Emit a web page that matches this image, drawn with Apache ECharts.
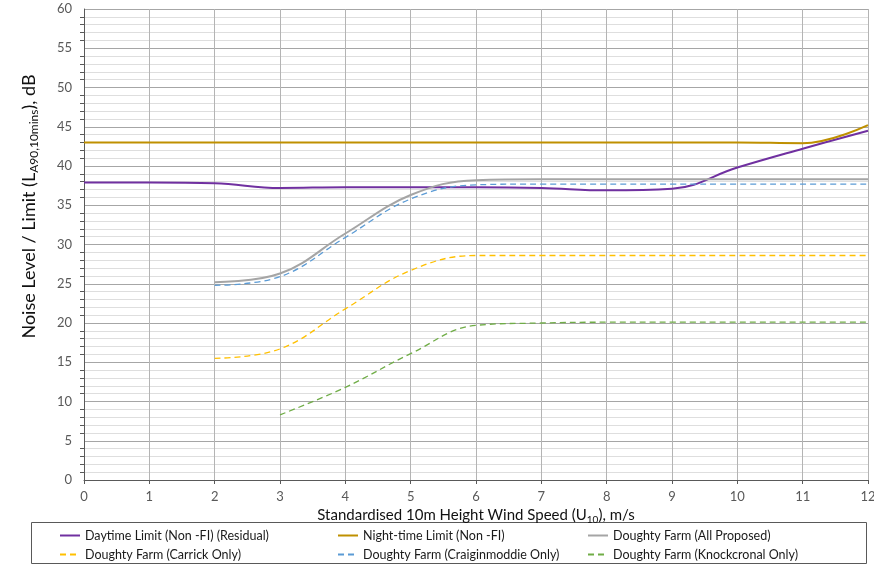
<!DOCTYPE html>
<html>
<head>
<meta charset="utf-8">
<script src="https://cdn.jsdelivr.net/npm/echarts@6/dist/echarts.min.js"></script>
<style>html,body{margin:0;padding:0;background:#fff}#c{width:874px;height:568px}</style>
</head>
<body>
<div id="c"></div>
<script>
const windSpeeds = [0,1,2,3,4,5,6,7,8,9,10,11,12];
const daytimeLimit = [37.9,37.9,37.8,37.2,37.3,37.3,37.3,37.2,36.9,37.1,39.8,42.2,44.5];
const nightLimit = [43,43,43,43,43,43,43,43,43,43,43,42.9,45.2];
const allProposed = [null,null,25.2,26.3,31.4,36.3,38.2,38.3,38.3,38.3,38.3,38.3,38.3];
const carrick = [null,null,15.5,16.7,21.8,26.7,28.6,28.6,28.6,28.6,28.6,28.6,28.6];
const craiginmoddie = [null,null,24.8,25.9,30.9,35.8,37.6,37.7,37.7,37.7,37.7,37.7,37.7];
const knockcronal = [null,null,null,8.3,11.8,16.1,19.7,20.0,20.1,20.1,20.1,20.1,20.1];
const yTicks = [0,5,10,15,20,25,30,35,40,45,50,55,60];

const names = {
  day: 'Daytime Limit (Non -FI) (Residual)',
  night: 'Night-time Limit (Non -FI)',
  all: 'Doughty Farm (All Proposed)',
  car: 'Doughty Farm (Carrick Only)',
  cra: 'Doughty Farm (Craiginmoddie Only)',
  kno: 'Doughty Farm (Knockcronal Only)'
};
function pairs(arr){ return windSpeeds.map((x,i)=>[x,arr[i]]).filter(p=>p[1]!==null); }
function ser(name, arr, color, width, type){
  return {name, type:'line', data:pairs(arr), smooth:0.4, showSymbol:false, symbol:'none',
    lineStyle:{color, width, type}, itemStyle:{color}, z:3};
}
const FONT = 'Lato, "Liberation Sans", sans-serif';
function leg(name, left, top){
  return {data:[name], left, top, padding:0, itemWidth:20, itemHeight:10, itemGap:0,
    itemStyle:{opacity:0, borderWidth:0},
    textStyle:{fontFamily:FONT, fontSize:12.5, color:'#1a1a1a'}, selectedMode:false};
}
const chart = echarts.init(document.getElementById('c'));
chart.setOption({
  animation:false,
  backgroundColor:'#fff',
  grid:{left:84, right:6, top:9, bottom:88, containLabel:false, outerBoundsMode:'none'},
  xAxis:{type:'value', min:0, max:12, interval:1,
    name:'Standardised 10m Height Wind Speed (U{sub|10}), m/s',
    nameLocation:'middle', nameGap:26,
    nameTextStyle:{fontFamily:FONT, fontSize:15, color:'#111',
      rich:{sub:{fontFamily:FONT, fontSize:10, color:'#111', verticalAlign:'bottom', padding:[8,0,0,0]}}},
    axisLine:{lineStyle:{color:'#595959', width:1}},
    axisTick:{show:true, length:4, lineStyle:{color:'#595959'}},
    axisLabel:{fontFamily:FONT, fontSize:13, color:'#595959', margin:10},
    splitLine:{show:true, lineStyle:{color:'#b4b4b4', width:1}}
  },
  yAxis:{type:'value', min:0, max:60, interval:5,
    name:'Noise Level / Limit (L{sub|A90,10mins}), dB',
    nameLocation:'middle', nameGap:44,
    nameTextStyle:{fontFamily:FONT, fontSize:18, color:'#111', padding:[0,0,0,76],
      rich:{sub:{fontFamily:FONT, fontSize:12, color:'#111', verticalAlign:'bottom', padding:[9,0,0,0]}}},
    axisLine:{show:true, lineStyle:{color:'#595959', width:1}},
    axisTick:{show:false},
    minorTick:{show:true, splitNumber:5, length:4, lineStyle:{color:'#595959'}},
    axisLabel:{fontFamily:FONT, fontSize:13, color:'#595959', margin:12,
      formatter:v=>yTicks.includes(v)?String(v):''},
    splitLine:{show:true, lineStyle:{color:'#a6a6a6', width:1}},
    minorSplitLine:{show:true, lineStyle:{color:'#dedede', width:1}}
  },
  legend:[
    leg(names.day, 59, 529), leg(names.night, 337, 529), leg(names.all, 587, 529),
    leg(names.car, 59, 548), leg(names.cra, 337, 548), leg(names.kno, 587, 548)
  ],
  graphic:[{type:'rect', shape:{x:31.5, y:522.5, width:835, height:41},
    style:{fill:'none', stroke:'#595959', lineWidth:1}, silent:true}],
  series:[
    ser(names.day, daytimeLimit, '#7030A0', 2, 'solid'),
    ser(names.night, nightLimit, '#BF9000', 2, 'solid'),
    ser(names.all, allProposed, '#A5A5A5', 2, 'solid'),
    ser(names.car, carrick, '#FFC000', 1.3, [6,4]),
    ser(names.cra, craiginmoddie, '#5B9BD5', 1.3, [6,4]),
    ser(names.kno, knockcronal, '#70AD47', 1.3, [6,4])
  ]
});
</script>
</body>
</html>
